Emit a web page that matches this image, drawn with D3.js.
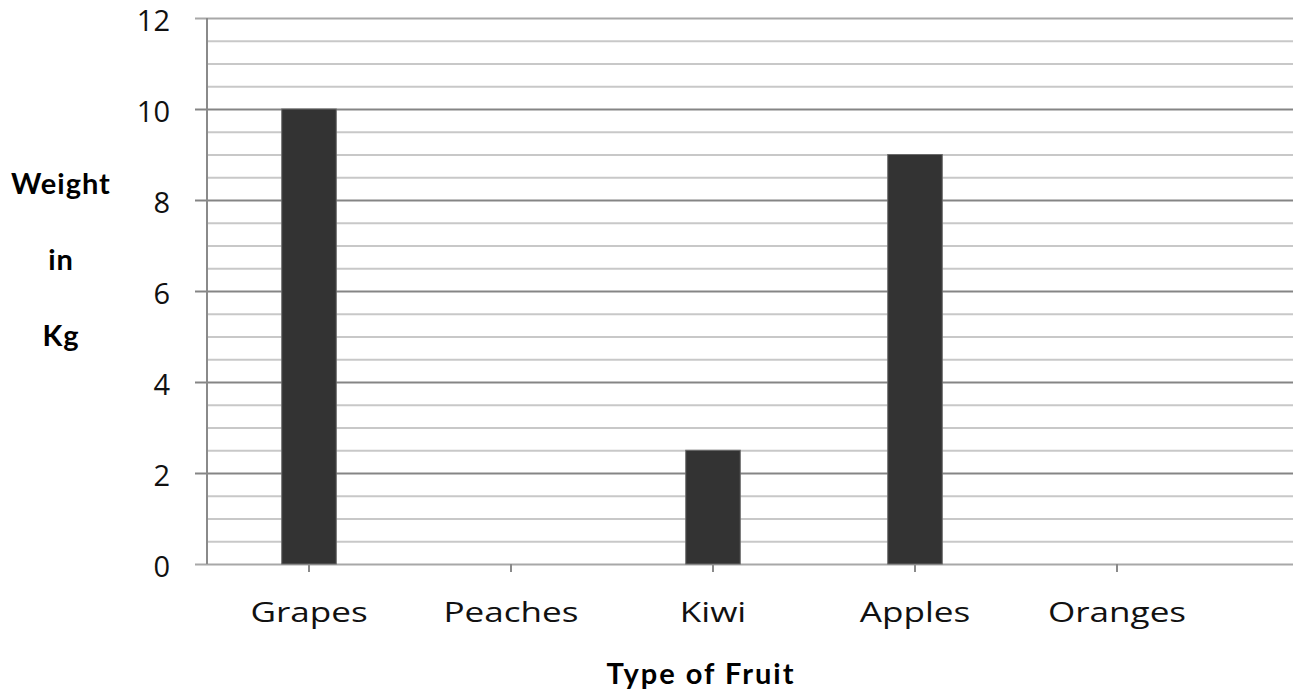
<!DOCTYPE html>
<html>
<head>
<meta charset="utf-8">
<script src="https://cdn.jsdelivr.net/npm/d3@7"></script>
<style>
  body { margin: 0; background: #fff; }
  .tickText { font-family: "Open Sans", sans-serif; fill: #111; }
  .axisTitle { font-family: "Comic Sans MS", "Lato", sans-serif; font-weight: bold; fill: #000; }
</style>
</head>
<body>
<div id="chart"></div>
<script>
// data
var fruits = ["Grapes", "Peaches", "Kiwi", "Apples", "Oranges"];
var weights = [10, 0, 2.5, 9, 0];
var yTicks = [0, 2, 4, 6, 8, 10, 12];
var yMinor = d3.range(0.5, 12, 0.5).filter(d => d % 2 !== 0);

var svgWidth = 1293;
var svgHeight = 694;

var svg = d3.select("#chart")
  .append("svg")
  .attr("width", svgWidth)
  .attr("height", svgHeight);

var x = d3.scaleBand()
  .domain(fruits)
  .range([208, 1218])
  .paddingInner(0.73)
  .paddingOuter(0.365);

var y = d3.scaleLinear()
  .domain([0, 12])
  .range([564, 18]);

var left = 207;
var gridRight = svgWidth;

// minor gridlines
svg.append("g")
  .attr("transform", `translate(${left},0)`)
  .call(d3.axisLeft(y).tickValues(yMinor).tickSize(-(gridRight - left)).tickFormat(""))
  .call(g => g.select(".domain").remove())
  .call(g => g.selectAll("line").attr("stroke", "#c8c8c8").attr("stroke-width", 2));

// major gridlines with ticks and labels
svg.append("g")
  .attr("transform", `translate(${left},0)`)
  .call(d3.axisLeft(y).tickValues(yTicks).tickSize(12).tickPadding(25))
  .call(g => g.select(".domain").remove())
  .call(g => g.selectAll("line")
    .attr("x2", -12)
    .attr("x1", gridRight - left)
    .attr("stroke", d => (d === 0 || d === 12) ? "#a8a8a8" : "#858585")
    .attr("stroke-width", 2))
  .call(g => g.selectAll("text")
    .attr("class", "tickText")
    .attr("font-size", "29px")
    .attr("dy", "0.42em"));

// y axis line
svg.append("line")
  .attr("x1", left).attr("x2", left)
  .attr("y1", y(12)).attr("y2", y(0))
  .attr("stroke", "#8a8a8a")
  .attr("stroke-width", 2);

// bars
svg.selectAll(".bar")
  .data(fruits.filter((d, i) => weights[i] > 0))
  .enter()
  .append("rect")
  .attr("class", "bar")
  .attr("x", d => x(d))
  .attr("width", x.bandwidth())
  .attr("y", d => y(weights[fruits.indexOf(d)]))
  .attr("height", d => y(0) - y(weights[fruits.indexOf(d)]))
  .attr("fill", "#333333")
  .attr("stroke", "#6a6a6a")
  .attr("stroke-width", 1);

// x ticks + labels
var xAxis = svg.append("g")
  .attr("transform", `translate(0,${y(0)})`)
  .call(d3.axisBottom(x).tickSize(8).tickPadding(0))
  .call(g => g.select(".domain").remove())
  .call(g => g.selectAll("line").attr("stroke", "#8a8a8a").attr("stroke-width", 2));

xAxis.selectAll(".tick text")
  .attr("class", "tickText")
  .attr("font-size", "27px")
  .attr("y", 0)
  .attr("dy", 0)
  .attr("transform", "translate(0,58) scale(1.3,1)");

// axis titles
var yTitle = ["Weight", "in", "Kg"];
svg.selectAll(".yTitle")
  .data(yTitle)
  .enter()
  .append("text")
  .attr("class", "axisTitle")
  .attr("font-size", "29px")
  .attr("letter-spacing", "1px")
  .attr("text-anchor", "middle")
  .attr("x", 61)
  .attr("y", (d, i) => 194 + i * 76)
  .text(d => d);

svg.append("text")
  .attr("class", "axisTitle")
  .attr("font-size", "29px")
  .attr("letter-spacing", "2px")
  .attr("text-anchor", "middle")
  .attr("x", 701)
  .attr("y", 684)
  .text("Type of Fruit");
</script>
</body>
</html>
